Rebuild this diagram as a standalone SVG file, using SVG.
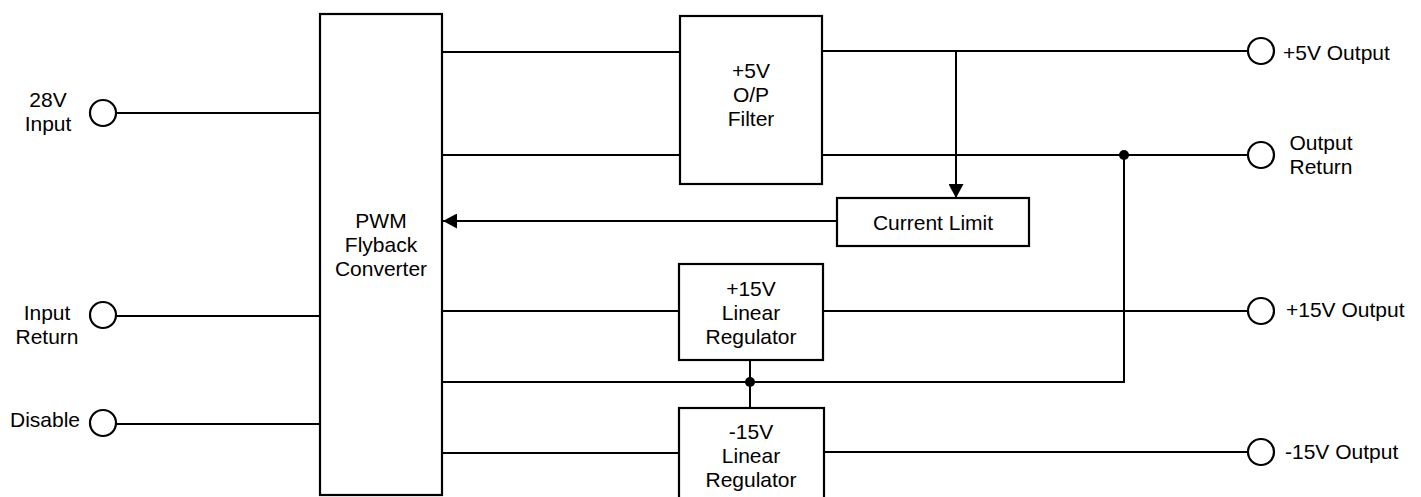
<svg xmlns="http://www.w3.org/2000/svg" width="1421" height="497" viewBox="0 0 1421 497">
<style>
.box{fill:#fff;stroke:#000;stroke-width:2.2}
.term{fill:#fff;stroke:#000;stroke-width:2.2}
.wire{fill:none;stroke:#000;stroke-width:2}
.dot{fill:#000}
text{font-family:"Liberation Sans",Arial,sans-serif;font-size:21px;fill:#000}
.c{text-anchor:middle}
</style>
<defs>
<marker id="arr" markerWidth="14" markerHeight="15" refX="14" refY="7.5" orient="auto" markerUnits="userSpaceOnUse">
<path d="M0,0 L14,7.5 L0,15 Z" fill="#000"/>
</marker>
</defs>
<g id="connectors">
<line class="wire" x1="116" y1="113" x2="320" y2="113"/>
<line class="wire" x1="116" y1="316" x2="320" y2="316"/>
<line class="wire" x1="116" y1="424" x2="322" y2="424"/>
<line class="wire" x1="442" y1="52" x2="680" y2="52"/>
<line class="wire" x1="442" y1="155" x2="680" y2="155"/>
<line class="wire" x1="822" y1="51" x2="1248" y2="51"/>
<line class="wire" x1="822" y1="155" x2="1248" y2="155"/>
<line class="wire" x1="956" y1="51" x2="956" y2="198" marker-end="url(#arr)"/>
<line class="wire" x1="837" y1="221" x2="443" y2="221" marker-end="url(#arr)"/>
<polyline class="wire" points="1124,155 1124,382 442,382"/>
<line class="wire" x1="442" y1="311" x2="679" y2="311"/>
<line class="wire" x1="823" y1="311" x2="1248" y2="311"/>
<line class="wire" x1="750" y1="360" x2="750" y2="408"/>
<line class="wire" x1="442" y1="453" x2="679" y2="453"/>
<line class="wire" x1="824" y1="452" x2="1248" y2="452"/>
<circle class="dot" cx="1124" cy="155" r="5"/>
<circle class="dot" cx="750" cy="382" r="5"/>
</g>
<g id="pwm">
<rect class="box" x="320" y="14" width="122" height="481"/>
<text class="c" x="381" y="228">PWM</text>
<text class="c" x="381" y="252">Flyback</text>
<text class="c" x="381" y="276">Converter</text>
</g>
<g id="filter5v">
<rect class="box" x="680" y="16" width="142" height="168"/>
<text class="c" x="751" y="78">+5V</text>
<text class="c" x="751" y="102">O/P</text>
<text class="c" x="751" y="126">Filter</text>
</g>
<g id="currentlimit">
<rect class="box" x="837" y="198" width="192" height="48"/>
<text class="c" x="933" y="230">Current Limit</text>
</g>
<g id="reg15p">
<rect class="box" x="679" y="264" width="144" height="96"/>
<text class="c" x="751" y="296">+15V</text>
<text class="c" x="751" y="320">Linear</text>
<text class="c" x="751" y="344">Regulator</text>
</g>
<g id="reg15n">
<rect class="box" x="679" y="408" width="145" height="100"/>
<text class="c" x="751" y="439">-15V</text>
<text class="c" x="751" y="463">Linear</text>
<text class="c" x="751" y="487">Regulator</text>
</g>
<g id="in28v">
<circle class="term" cx="103" cy="113" r="13"/>
<text class="c" x="48" y="107">28V</text>
<text class="c" x="48" y="131">Input</text>
</g>
<g id="inreturn">
<circle class="term" cx="103" cy="315" r="13"/>
<text class="c" x="47" y="320">Input</text>
<text class="c" x="47" y="344">Return</text>
</g>
<g id="disable">
<circle class="term" cx="103" cy="423" r="13"/>
<text x="10" y="427">Disable</text>
</g>
<g id="out5v">
<circle class="term" cx="1261" cy="51" r="13"/>
<text x="1283" y="60">+5V Output</text>
</g>
<g id="outreturn">
<circle class="term" cx="1261" cy="155" r="13"/>
<text class="c" x="1321" y="150">Output</text>
<text class="c" x="1321" y="174">Return</text>
</g>
<g id="out15p">
<circle class="term" cx="1261" cy="311" r="13"/>
<text x="1286" y="317">+15V Output</text>
</g>
<g id="out15n">
<circle class="term" cx="1261" cy="452" r="13"/>
<text x="1285" y="459">-15V Output</text>
</g>
</svg>
